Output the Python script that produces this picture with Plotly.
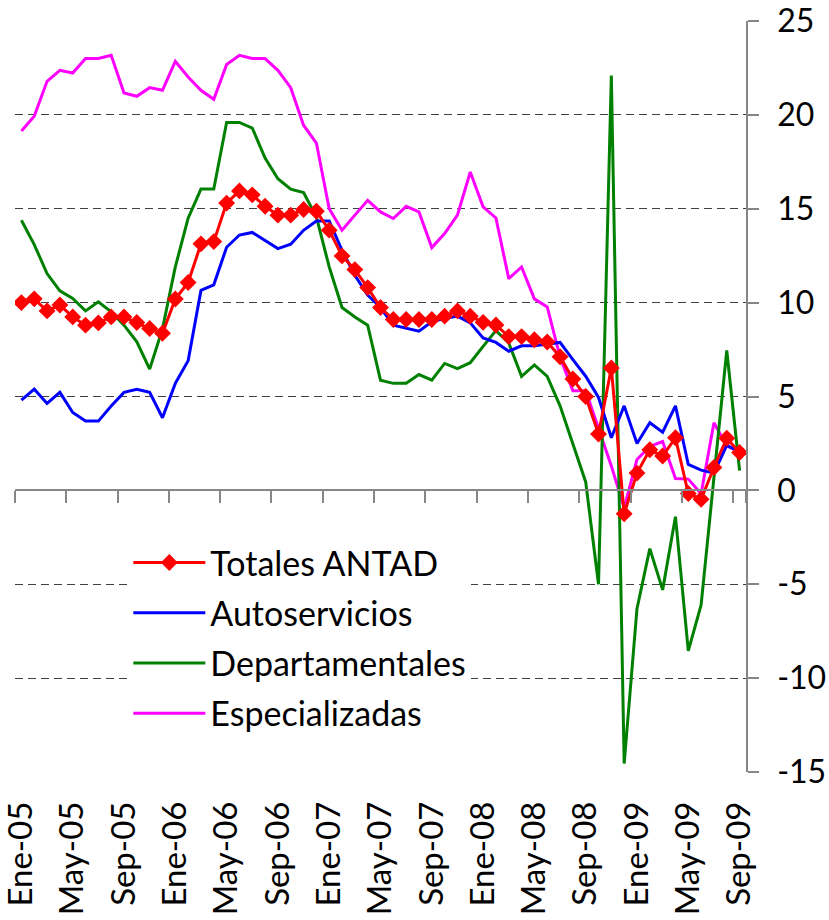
import plotly.graph_objects as go

MONTH_ABBR = ["Ene", "Feb", "Mar", "Abr", "May", "Jun", "Jul", "Ago", "Sep", "Oct", "Nov", "Dic"]
YEARS = ["05", "06", "07", "08", "09"]
months = [f"{m}-{y}" for y in YEARS for m in MONTH_ABBR][:57]  # Ene-05 .. Sep-09
tick_labels = months[::4]

totales = [10.0, 10.2, 9.56, 9.87, 9.24, 8.8, 8.92, 9.24, 9.24, 8.94, 8.62, 8.37,
           10.19, 11.07, 13.13, 13.25, 15.3, 15.95, 15.74, 15.13, 14.66, 14.66, 14.96, 14.87,
           13.86, 12.49, 11.76, 10.8, 9.74, 9.1, 9.1, 9.1, 9.1, 9.28, 9.56, 9.28,
           8.95, 8.81, 8.19, 8.19, 8.02, 7.9, 7.12, 5.93, 5.0, 3.0, 6.52, -1.25,
           0.92, 2.16, 1.83, 2.8, -0.17, -0.47, 1.22, 2.78, 2.02]
autoservicios = [4.81, 5.39, 4.63, 5.22, 4.15, 3.69, 3.69, 4.49, 5.22, 5.39, 5.22, 3.87,
                 5.7, 6.9, 10.65, 10.95, 12.95, 13.6, 13.74, 13.29, 12.88, 13.11, 13.85, 14.35,
                 14.35, 12.79, 11.46, 10.4, 9.74, 8.8, 8.62, 8.48, 8.98, 9.16, 9.28, 8.92,
                 8.12, 7.88, 7.41, 7.7, 7.7, 7.8, 7.88, 6.96, 6.08, 4.95, 2.8, 4.5,
                 2.5, 3.6, 3.1, 4.5, 1.38, 1.08, 0.92, 2.4, 2.05]
departamentales = [14.39, 13.09, 11.55, 10.63, 10.22, 9.56, 10.04, 9.51, 8.8, 7.91, 6.46, 8.6,
                   11.9, 14.5, 16.05, 16.05, 19.6, 19.6, 19.3, 17.7, 16.6, 16.04, 15.86, 14.57,
                   11.9, 9.74, 9.24, 8.8, 5.87, 5.7, 5.7, 6.17, 5.87, 6.76, 6.49, 6.8,
                   7.67, 8.51, 7.85, 6.07, 6.68, 6.07, 4.5, 2.43, 0.45, -5.0, 22.1, -14.55,
                   -6.3, -3.1, -5.3, -1.4, -8.55, -6.1, 0.7, 7.45, 1.05]
especializadas = [19.14, 19.93, 21.79, 22.37, 22.23, 23.0, 23.0, 23.17, 21.17, 20.99, 21.45, 21.31,
                  22.85, 22.02, 21.31, 20.83, 22.68, 23.17, 23.0, 23.0, 22.37, 21.45, 19.45, 18.5,
                  15.0, 13.86, 14.66, 15.45, 14.83, 14.48, 15.13, 14.83, 12.93, 13.68, 14.66, 16.96,
                  15.1, 14.51, 11.28, 11.9, 10.2, 9.77, 7.1, 5.3, 5.3, 3.35, 1.3, -0.92,
                  1.65, 2.34, 2.6, 0.63, 0.6, -0.18, 3.6, 2.37, 2.07]

y_ticks = [-15, -10, -5, 0, 5, 10, 15, 20, 25]
y_tick_text = ["-15", "-10", "-5", "0", "5", "10", "15", "20", "25"]

FONT = "Lato, 'Noto Sans', sans-serif"
AXIS_GRAY = "#868686"

fig = go.Figure()

# drawn bottom-to-top; legendrank gives the legend order
series = [
    ("Especializadas", especializadas, "#FF00FF", None, 4),
    ("Departamentales", departamentales, "#008000", None, 3),
    ("Autoservicios", autoservicios, "#0000FF", None, 2),
    ("Totales ANTAD", totales, "#FF0000", dict(symbol="diamond", size=13, color="#FF0000"), 1),
]
for name, vals, color, marker, rank in series:
    fig.add_trace(go.Scatter(
        x=months, y=vals, name=name, legendgroup=name, legendrank=rank,
        mode="lines+markers" if marker else "lines",
        line=dict(color=color, width=3),
        marker=marker,
    ))

# helper trace for the axis drawn at y = 0 (ticks at category boundaries)
fig.add_trace(go.Scatter(x=months, y=[None] * len(months), xaxis="x2",
                         showlegend=False, hoverinfo="skip", mode="lines"))

fig.update_layout(
    width=829, height=920,
    margin=dict(l=15, r=83, t=21, b=148, autoexpand=False),
    paper_bgcolor="white", plot_bgcolor="white",
    font=dict(family=FONT, color="black"),
    showlegend=True,
    legend=dict(
        x=0.155, y=0.317, xanchor="left", yanchor="top",
        bgcolor="white", borderwidth=0,
        font=dict(family=FONT, size=34, color="black"),
        traceorder="grouped", tracegroupgap=3,
        itemwidth=72,
    ),
    xaxis=dict(
        type="category", categoryarray=months, categoryorder="array",
        range=[-0.5, len(months) - 0.5], automargin=False,
        tickmode="array", tickvals=tick_labels, ticktext=tick_labels,
        tickangle=-90, ticks="", showline=False, showgrid=False, zeroline=False,
        tickfont=dict(family=FONT, size=33, color="black"),
        ticklabelstandoff=22, ticklabeloverflow="allow",
    ),
    xaxis2=dict(
        type="category", categoryarray=months, categoryorder="array",
        overlaying="x", anchor="free", position=15 / 40, side="bottom",
        range=[-0.5, len(months) - 0.5], automargin=False,
        tickmode="array", tickvals=tick_labels, tickson="boundaries",
        ticks="outside", ticklen=12, tickwidth=1.5, tickcolor=AXIS_GRAY,
        showticklabels=False, showline=True, linecolor=AXIS_GRAY, linewidth=1.5,
        showgrid=False, zeroline=False,
    ),
    yaxis=dict(
        side="right", range=[-15, 25], automargin=False,
        tickmode="array", tickvals=y_ticks, ticktext=y_tick_text,
        ticks="outside", ticklen=11, tickwidth=1.5, tickcolor=AXIS_GRAY,
        showline=True, linecolor=AXIS_GRAY, linewidth=1.5,
        showgrid=True, gridcolor="#404040", gridwidth=1, griddash="8px,5px",
        zeroline=True, zerolinecolor=AXIS_GRAY, zerolinewidth=1.5,
        tickfont=dict(family=FONT, size=32, color="black"),
        ticklabelstandoff=12, ticklabeloverflow="allow",
    ),
)

# remove the default page margin so the 829x920 figure fills the window exactly
fig.write_html(
    "out.html",
    config={"displayModeBar": False},
    post_script="document.body.style.margin='0';document.body.style.overflow='hidden';",
)
